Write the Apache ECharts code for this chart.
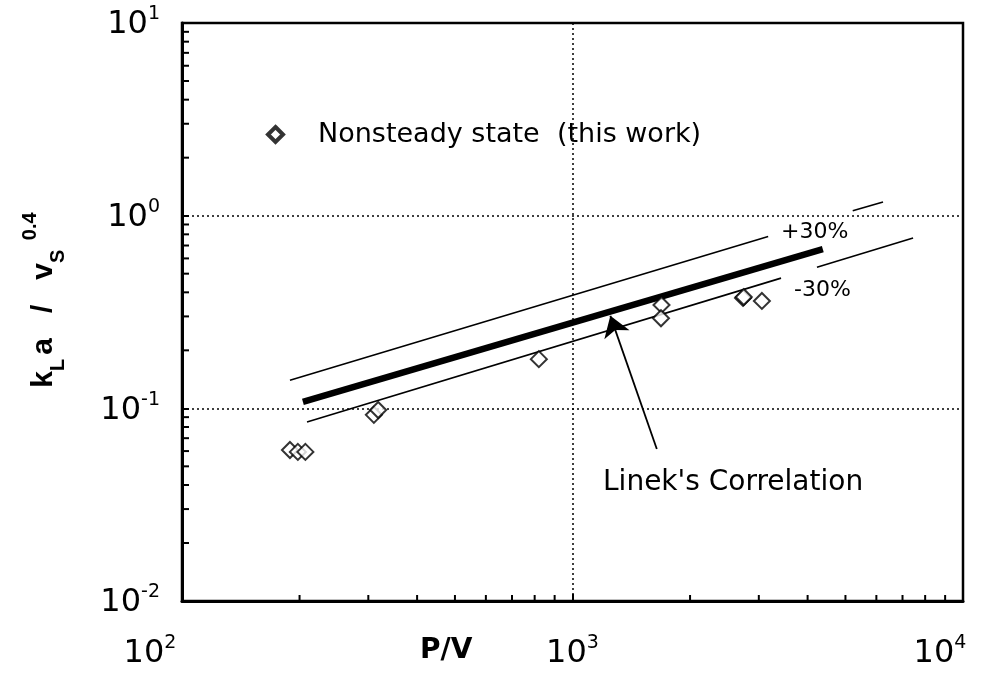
<!DOCTYPE html>
<html><head><meta charset="utf-8">
<script src="https://cdn.jsdelivr.net/npm/echarts@6/dist/echarts.min.js"></script>
<style>html,body{margin:0;padding:0;background:#fff}#c{width:991px;height:681px}</style>
</head><body><div id="c"></div>
<script>
// ---- data ----
const xTickValues = [100, 1000, 10000];
const yTickValues = [0.01, 0.1, 1, 10];
const xMinorTicks = [200, 300, 400, 500, 600, 700, 800, 900, 2000, 3000, 4000, 5000, 6000, 7000, 8000, 9000];
const yMinorTicks = [0.02, 0.03, 0.04, 0.05, 0.06, 0.07, 0.08, 0.09,
                     0.2, 0.3, 0.4, 0.5, 0.6, 0.7, 0.8, 0.9,
                     2, 3, 4, 5, 6, 7, 8, 9];
const pvValues  = [189, 198, 207, 310, 318, 820, 1690, 1685, 2733, 2745, 3055];
const klaValues = [0.0608, 0.0594, 0.0594, 0.0925, 0.098, 0.180, 0.344, 0.2935, 0.374, 0.378, 0.361];
const linekLine  = [[204, 0.108], [4375, 0.671]];
const upperLineA = [[189, 0.140], [3170, 0.78]];
const upperLineB = [[5220, 1.06], [6240, 1.178]];
const lowerLineA = [[209, 0.085], [3420, 0.474]];
const lowerLineB = [[4227, 0.540], [7450, 0.766]];
const arrowLine  = [[1644, 0.0615], [1250, 0.302]];
const seriesName = 'Nonsteady state  (this work)';

const chart = echarts.init(document.getElementById('c'), null, {renderer: 'canvas'});
const tickFont = '"DejaVu Sans", sans-serif';
const txtFont = '"DejaVu Sans", sans-serif';

function expOf(v) { return Math.round(Math.log10(v)); }

function segSeries(data, width) {
  return {type: 'line', data: data, symbol: 'none', silent: true,
          lineStyle: {color: '#000', width: width}, z: 3};
}
const supBase = {fontFamily: tickFont, fontSize: 19, color: '#000', lineHeight: 19, verticalAlign: 'top'};

const option = {
  backgroundColor: '#fff',
  animation: false,
  grid: {left: 182, right: 28, top: 23, bottom: 80, show: true, borderColor: '#000', borderWidth: 2.5,
         backgroundColor: 'transparent', containLabel: false, outerBoundsMode: 'none'},
  legend: {
    left: 266, top: 121, padding: 0,
    itemWidth: 15, itemHeight: 15,
    icon: 'diamond',
    data: [{name: seriesName, icon: 'diamond', itemStyle: {color: '#fff', borderColor: '#000', borderWidth: 4}}],
    formatter: function (n) { return '{t|' + n + '}'; },
    textStyle: {rich: {t: {fontFamily: txtFont, fontSize: 27, color: '#000', padding: [0, 0, 0, 30], lineHeight: 30}}}
  },
  xAxis: {
    type: 'log', logBase: 10, min: 100, max: 10000,
    axisLine: {lineStyle: {color: '#000', width: 3}},
    axisTick: {inside: true, length: 7, lineStyle: {color: '#000', width: 2}},
    splitLine: {show: true, lineStyle: {color: '#000', width: 1.5, type: [2, 3]}},
    axisLabel: {
      margin: 33,
      formatter: function (v) {
        const e = expOf(v);
        const sup = e === 2 ? 's2' : (e === 4 ? 's4' : 's');
        return '{b|10}{' + sup + '|' + e + '}';
      },
      rich: {
        b: {fontFamily: tickFont, fontSize: 32, color: '#000', lineHeight: 36, verticalAlign: 'bottom'},
        s: Object.assign({}, supBase),
        s2: Object.assign({}, supBase, {padding: [0, 64, 0, 0]}),
        s4: Object.assign({}, supBase, {padding: [0, 46, 0, 0]})
      }
    }
  },
  yAxis: {
    type: 'log', logBase: 10, min: 0.01, max: 10,
    axisLine: {lineStyle: {color: '#000', width: 3}},
    axisTick: {inside: true, length: 7, lineStyle: {color: '#000', width: 2}},
    splitLine: {show: true, lineStyle: {color: '#000', width: 1.5, type: [2, 3]}},
    axisLabel: {
      margin: 22,
      formatter: function (v) {
        const e = expOf(v);
        return '{b|10}{s|' + (e < 0 ? '-' + (-e) : e) + '}';
      },
      rich: {
        b: {fontFamily: tickFont, fontSize: 32, color: '#000', lineHeight: 36, verticalAlign: 'bottom'},
        s: Object.assign({}, supBase)
      }
    }
  },
  graphic: [
    {type: 'text', left: 420, top: 637, style: {text: 'P/V', font: 'bold 28px "DejaVu Sans", sans-serif', fill: '#000'}},
    {type: 'text', left: 603, top: 469, style: {text: "Linek's Correlation", font: '28px ' + txtFont, fill: '#000'}},
    {type: 'text', left: 781, top: 221, style: {text: '+30%', font: '22px ' + txtFont, fill: '#000'}},
    {type: 'text', left: 794, top: 279, style: {text: '-30%', font: '22px ' + txtFont, fill: '#000'}},
    {type: 'text', x: 44, y: 300, rotation: Math.PI / 2,
     style: {
       text: '{m|k}{sub|L}{m|a   /   v}{sub|S}{sup| 0.4}',
       align: 'center', verticalAlign: 'middle',
       rich: {
         m: {font: 'bold 30px "Liberation Sans", Arial, sans-serif', fill: '#000', lineHeight: 48, verticalAlign: 'middle'},
         sub: {font: 'bold 20px "Liberation Sans", Arial, sans-serif', fill: '#000', lineHeight: 20, verticalAlign: 'bottom', padding: [0, 4, 0, 0]},
         sup: {font: 'bold 20px "Liberation Sans", Arial, sans-serif', fill: '#000', lineHeight: 20, verticalAlign: 'top'}
       }
     }}
  ],
  series: [
    {
      name: seriesName, type: 'scatter',
      data: pvValues.map((x, i) => [x, klaValues[i]]),
      symbol: 'emptyDiamond', symbolSize: [16, 16],
      itemStyle: {color: '#000', borderColor: '#000', borderWidth: 2.2},
      z: 4
    },
    segSeries(linekLine, 6.5),
    segSeries(upperLineA, 1.6),
    segSeries(upperLineB, 1.6),
    segSeries(lowerLineA, 1.6),
    segSeries(lowerLineB, 1.6),
    {
      type: 'lines', coordinateSystem: 'cartesian2d', silent: true,
      data: [{coords: arrowLine}],
      symbol: ['none', 'arrow'], symbolSize: 20,
      lineStyle: {color: '#000', width: 1.8, opacity: 1},
      z: 5
    },
    {
      type: 'custom', silent: true, z: 6,
      data: yMinorTicks.map(v => [100, v]),
      renderItem: function (params, api) {
        const p = api.coord([api.value(0), api.value(1)]);
        return {type: 'line', shape: {x1: p[0], y1: p[1], x2: p[0] + 7, y2: p[1]}, style: {stroke: '#000', lineWidth: 2}};
      }
    },
    {
      type: 'custom', silent: true, z: 6,
      data: xMinorTicks.map(v => [v, 0.01]),
      renderItem: function (params, api) {
        const p = api.coord([api.value(0), api.value(1)]);
        return {type: 'line', shape: {x1: p[0], y1: p[1], x2: p[0], y2: p[1] - 6}, style: {stroke: '#000', lineWidth: 2}};
      }
    }
  ]
};
chart.setOption(option);
</script>
</body></html>
